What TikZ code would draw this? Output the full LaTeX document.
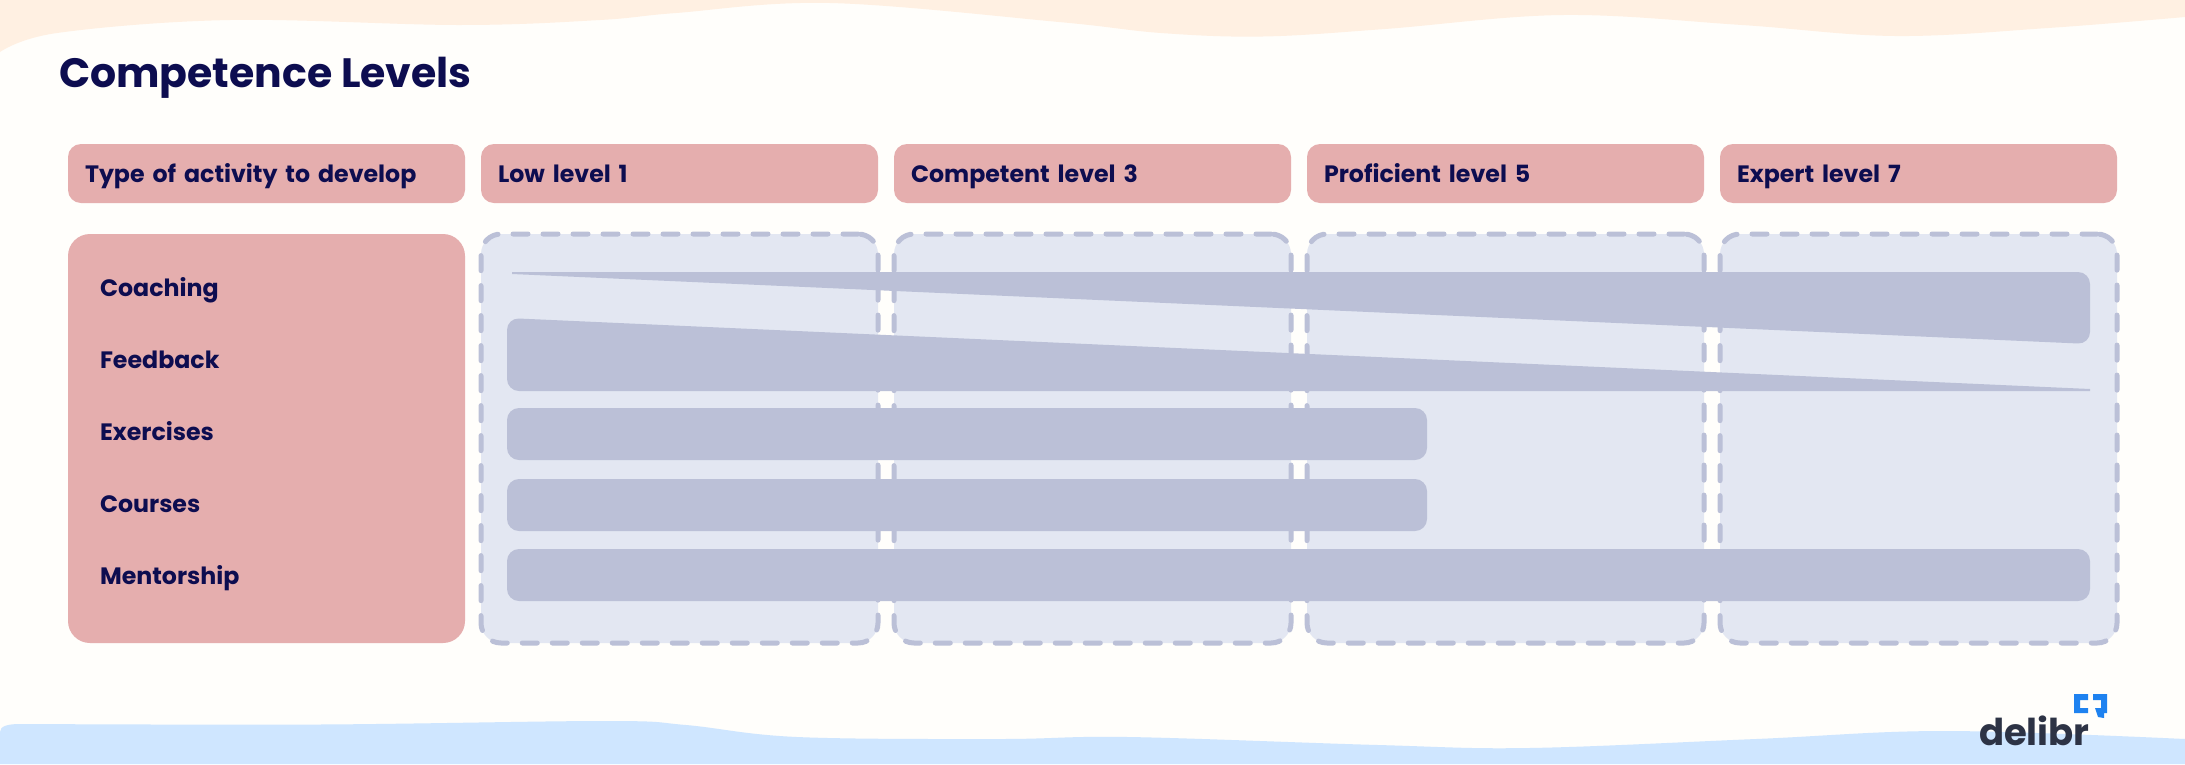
\documentclass[tikz,border=0pt]{standalone}
\usepackage{fontspec}
\setmainfont{Poppins}
\usetikzlibrary{positioning}
\definecolor{pagefill}{HTML}{FFFEFB}
\definecolor{topwave}{HTML}{FFF0E2}
\definecolor{bottomwave}{HTML}{CFE6FF}
\definecolor{headfill}{HTML}{E5AEAE}
\definecolor{panelfill}{HTML}{E3E7F2}
\definecolor{barfill}{HTML}{BBC0D7}
\definecolor{inktext}{HTML}{0D0D50}
\definecolor{logotext}{HTML}{2D3345}
\definecolor{logoblue}{HTML}{1E82F0}
\tikzset{
    levels/.style={
        x=1pt, y=-1pt,
        every node/.append style={outer sep=0pt, text=inktext},
        % Testate delle colonne
        headbox/.style={fill=headfill, rounded corners=13pt,
                        minimum width=397pt, minimum height=59pt,
                        inner xsep=17pt, inner ysep=0pt, text width=363pt,
                        text height=19pt, text depth=2pt,
                        align=left, font=\fontsize{23.7}{27}\selectfont\bfseries},
        % Colonne tratteggiate
        panelbox/.style={draw=barfill, fill=panelfill, line width=5pt, line cap=round,
                         dash pattern=on 15pt off 15pt, rounded corners=20pt,
                         minimum width=397pt, minimum height=409pt},
        activitybox/.style={fill=headfill, rounded corners=22pt,
                            minimum width=397pt, minimum height=409pt},
        activitytext/.style={inner sep=0pt, text height=17pt, text depth=5pt,
                             font=\fontsize{23.7}{27}\selectfont\bfseries},
        barbox/.style={fill=barfill, rounded corners=12pt, anchor=north west,
                       minimum height=52pt}
    }
}
\begin{document}
\begin{tikzpicture}[levels]
      \useasboundingbox (0,0) rectangle (2185,764);
      \fill[pagefill] (0,0) rectangle (2185,764);
      % Onde
      \fill[topwave] (0,0) -- (0,52) -- plot[smooth, tension=0.6] coordinates {(0,52) (57,33)
        (230,20) (459,25) (600,20) (676,13) (830,3) (1059,22) (1161,33) (1263,36.5) (1385,29)
        (1563,15) (1742,25) (1895,36) (2048,28) (2185,17)} -- (2185,0) -- cycle;
      \fill[bottomwave] (0,764) -- (0,732) .. controls (0,726) and (8,724) .. (20,724) -- plot[smooth, tension=0.6] coordinates {(20,724)
        (319,724.5) (606,721) (686,725) (797,737) (1000,739) (1128,737) (1378,745) (1529,748)
        (1756,739) (1945,731) (2185,739)} -- (2185,764) -- cycle;

      \node[anchor=base west, inner sep=0pt, font=\fontsize{41}{46}\selectfont\bfseries] (title) at (59,87) {Competence Levels};

      % Testate
      \node[headbox, anchor=north west] (typehead) at (68,144) {Type of activity to develop};
      \node[headbox, right=16pt of typehead] (lowhead) {Low level 1};
      \node[headbox, right=16pt of lowhead] (competenthead) {Competent level 3};
      \node[headbox, right=16pt of competenthead] (proficienthead) {Proficient level 5};
      \node[headbox, right=16pt of proficienthead] (experthead) {Expert level 7};

      % Colonne
      \node[activitybox, below=31pt of typehead] (activitypanel) {};
      \node[panelbox, below=31pt of lowhead] (lowpanel) {};
      \node[panelbox, below=31pt of competenthead] (competentpanel) {};
      \node[panelbox, below=31pt of proficienthead] (proficientpanel) {};
      \node[panelbox, below=31pt of experthead] (expertpanel) {};

      \node[activitytext, anchor=west] (coaching) at (100,290) {Coaching};
      \node[activitytext, below=50pt of coaching.south west, anchor=north west] (feedback) {Feedback};
      \node[activitytext, below=50pt of feedback.south west, anchor=north west] (exercises) {Exercises};
      \node[activitytext, below=50pt of exercises.south west, anchor=north west] (courses) {Courses};
      \node[activitytext, below=50pt of courses.south west, anchor=north west] (mentorship) {Mentorship};

      % Barre
      \fill[barfill] (512,272) [rounded corners=12pt] -- (2090,272) -- (2090,344) [sharp corners] -- (512,274) -- cycle;
      \fill[barfill] (2090,391) [rounded corners=12pt] -- (507,391) -- (507,318) [sharp corners] -- (2090,389) -- cycle;
      \node[barbox, minimum width=920pt] (exercisesbar) at (507,408) {};
      \node[barbox, minimum width=920pt] (coursesbar) at (507,479) {};
      \node[barbox, minimum width=1583pt] (mentorshipbar) at (507,549) {};

      % Logo
      \node[anchor=base west, inner sep=0pt, text=logotext, font=\fontsize{37}{42}\selectfont\bfseries] (logoname) at (1979,745) {delibr};
      \fill[logoblue] (2074,694) -- (2088,694) -- (2088,700) -- (2080,700) -- (2080,708) -- (2088,708) -- (2088,713) -- (2074,713) -- cycle;
      \fill[logoblue] (2093,694) -- (2107,694) -- (2107,713) -- (2104,713) -- (2104,718) -- (2098,717) -- (2095,708) -- (2101,708) -- (2101,700) -- (2093,700) -- cycle;
\end{tikzpicture}
\end{document}
